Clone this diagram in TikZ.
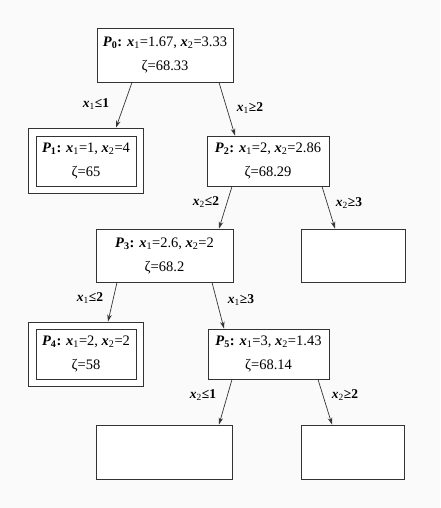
\documentclass[tikz,border=0pt]{standalone}
\usepackage{fontspec}
\setmainfont{Liberation Serif}
\usetikzlibrary{arrows.meta}
\newcommand{\PP}[1]{\textbf{\textit{P}}\textsubscript{\textbf{#1}}\textbf{:}}
\newcommand{\xx}[1]{\textbf{\textit{x}}\textsubscript{#1}}
\newcommand{\lab}[3]{\textbf{\textit{x}}\textsubscript{#1}\textbf{#2#3}}
\definecolor{ln}{HTML}{333333}
\begin{document}
\begin{tikzpicture}[x=1pt,y=-1pt,
  box/.style={draw=ln,line width=0.9pt,fill=white,inner sep=0pt,align=center,
    font=\fontsize{14.5}{24}\selectfont},
  arr/.style={draw=ln,line width=0.7pt,-{Stealth[length=7pt,width=4.5pt]}},
  lbl/.style={inner sep=0pt,font=\fontsize{13.5}{16}\selectfont}]
\fill[black!2] (0,0) rectangle (440,508);
\useasboundingbox (0,0) rectangle (440,508);
% nodes
\node[box,minimum width=136pt,minimum height=54pt] (P0) at (165,55) {\PP{0} \xx{1}=1.67, \xx{2}=3.33\\ζ=68.33};
\node[box,minimum width=115pt,minimum height=65pt] (P1o) at (85.5,160.5) {};
\node[box,minimum width=100pt,minimum height=50pt] (P1) at (86,161) {\PP{1} \xx{1}=1, \xx{2}=4\\ζ=65};
\node[box,minimum width=122pt,minimum height=50pt] (P2) at (268,161) {\PP{2} \xx{1}=2, \xx{2}=2.86\\ζ=68.29};
\node[box,minimum width=137pt,minimum height=53pt] (P3) at (164.5,255.5) {\PP{3} \xx{1}=2.6, \xx{2}=2\\ζ=68.2};
\node[box,minimum width=104pt,minimum height=53pt] (R2) at (353,255.5) {};
\node[box,minimum width=115pt,minimum height=64pt] (P4o) at (85.5,354) {};
\node[box,minimum width=100pt,minimum height=50pt] (P4) at (86,354) {\PP{4} \xx{1}=2, \xx{2}=2\\ζ=58};
\node[box,minimum width=121pt,minimum height=50pt] (P5) at (268.5,354) {\PP{5} \xx{1}=3, \xx{2}=1.43\\ζ=68.14};
\node[box,minimum width=136pt,minimum height=54pt] (B1) at (164,452) {};
\node[box,minimum width=103pt,minimum height=54pt] (B2) at (352.5,452) {};
% connectors
\draw[arr] ([xshift=-33pt]P0.south) -- ([xshift=30.5pt]P1o.north);
\draw[arr] ([xshift=54pt]P0.south) -- ([xshift=-33pt]P2.north);
\draw[arr] ([xshift=-36pt]P2.south) -- ([xshift=54.5pt]P3.north);
\draw[arr] ([xshift=54pt]P2.south) -- ([xshift=-18pt]R2.north);
\draw[arr] ([xshift=-47.5pt]P3.south) -- ([xshift=22.5pt]P4o.north);
\draw[arr] ([xshift=47.5pt]P3.south) -- ([xshift=-44.5pt]P5.north);
\draw[arr] ([xshift=-36.5pt]P5.south) -- ([xshift=55pt]B1.north);
\draw[arr] ([xshift=49.5pt]P5.south) -- ([xshift=-20.5pt]B2.north);
% labels
\node[lbl] (L1) at (96,104) {\lab{1}{≤}{1}};
\node[lbl] (L2) at (250,108) {\lab{1}{≥}{2}};
\node[lbl] (L3) at (206,202) {\lab{2}{≤}{2}};
\node[lbl] (L4) at (349,203) {\lab{2}{≥}{3}};
\node[lbl] (L5) at (90,298) {\lab{1}{≤}{2}};
\node[lbl] (L6) at (241,300) {\lab{1}{≥}{3}};
\node[lbl] (L7) at (203,395) {\lab{2}{≤}{1}};
\node[lbl] (L8) at (345,395) {\lab{2}{≥}{2}};
\end{tikzpicture}
\end{document}
